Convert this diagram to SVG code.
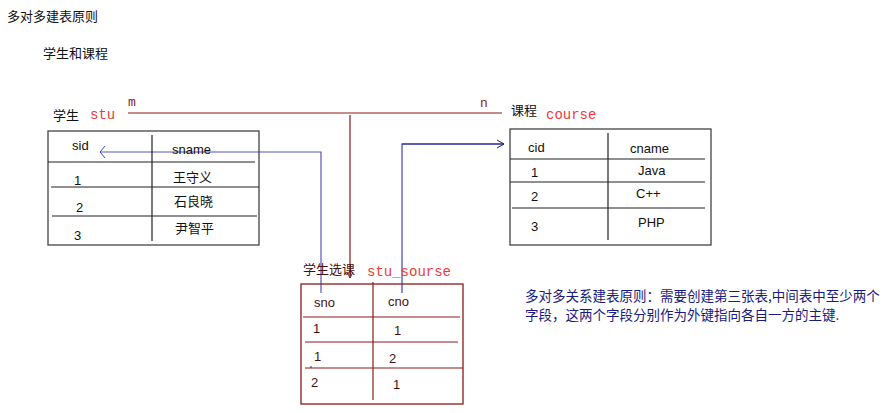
<svg xmlns="http://www.w3.org/2000/svg" width="894" height="413" viewBox="0 0 894 413">
<defs>
<style>
.t{font-family:"Liberation Sans","Noto Sans CJK SC",sans-serif;font-size:13px;fill:#111}
.cn{font-family:"Noto Sans CJK SC","Liberation Sans",sans-serif;font-size:13px;fill:#111}
.red{font-family:"Liberation Mono","DejaVu Sans Mono",monospace;font-size:14px;fill:#f03a3a}
.mn{font-family:"Liberation Mono",monospace;font-size:13px;fill:#8b1a1a}
.tb{fill:none;stroke:#444;stroke-width:1.3}
.ln{stroke:#222;stroke-width:1.2}
.rtb{fill:none;stroke:#8b1a1a;stroke-width:1.3}
.rln{stroke:#8b1a1a;stroke-width:1.2}
.rt{font-family:"Liberation Sans","Noto Sans CJK SC",sans-serif;font-size:13px;fill:#4a1010}
.note{font-family:"Noto Sans CJK SC","Liberation Sans",sans-serif;font-size:13.5px;fill:#1a1a80}
</style>
<marker id="openL" markerWidth="10" markerHeight="14" refX="8" refY="7" orient="auto" markerUnits="userSpaceOnUse">
<path d="M3,1 L8,7 L3,13" fill="none" stroke="#4444bb" stroke-width="1"/>
</marker>
<marker id="openR" markerWidth="10" markerHeight="10" refX="9" refY="5" orient="auto" markerUnits="userSpaceOnUse">
<path d="M2,1 L9,5 L2,9" fill="none" stroke="#1a1a8a" stroke-width="1"/>
</marker>
<marker id="downR" markerWidth="8" markerHeight="8" refX="7" refY="4" orient="auto" markerUnits="userSpaceOnUse">
<path d="M1,1 L7,4 L1,7" fill="none" stroke="#8b1a1a" stroke-width="1"/>
</marker>
</defs>
<rect width="894" height="413" fill="#fff"/>

<g id="titles">
<text class="cn" x="7" y="21">多对多建表原则</text>
<text class="cn" x="43" y="58">学生和课程</text>
</g>

<g id="connectors">
<line x1="128" y1="113" x2="502" y2="113" stroke="#8b1a1a" stroke-width="1.2"/>
<line x1="350" y1="115" x2="350" y2="278" stroke="#8b1a1a" stroke-width="1.2" marker-end="url(#downR)"/>
<polyline points="321,293 321,152 100,152" fill="none" stroke="#5555bb" stroke-width="1.2" marker-end="url(#openL)"/>
<polyline points="402,293 402,144 503,144" fill="none" stroke="#4444bb" stroke-width="1.2"/>
<line x1="402" y1="144" x2="504" y2="144" stroke="#1a1a8a" stroke-width="1.2" marker-end="url(#openR)"/>
<text class="mn" x="128" y="106">m</text>
<text class="mn" x="480" y="107">n</text>
</g>

<g id="stu">
<text class="cn" x="53" y="120">学生</text>
<text class="red" x="90" y="119">stu</text>
<rect class="tb" x="48" y="131" width="211" height="114"/>
<line class="ln" x1="152" y1="135" x2="152" y2="241"/>
<line class="ln" x1="48" y1="162" x2="255" y2="162"/>
<line class="ln" x1="51" y1="187" x2="259" y2="187"/>
<line class="ln" x1="52" y1="216" x2="257" y2="216"/>
<text class="t" x="72" y="150">sid</text>
<text class="t" x="172" y="154">sname</text>
<text class="t" x="74" y="185">1</text>
<text class="cn" x="173" y="182">王守义</text>
<text class="t" x="76" y="212">2</text>
<text class="cn" x="174" y="206">石良晓</text>
<text class="t" x="74" y="240">3</text>
<text class="cn" x="175" y="233">尹智平</text>
</g>

<g id="course">
<text class="cn" x="511" y="115">课程</text>
<text class="red" x="546" y="119">course</text>
<rect class="tb" x="510" y="129" width="201" height="116"/>
<line class="ln" x1="608" y1="133" x2="608" y2="240"/>
<line class="ln" x1="510" y1="159" x2="705" y2="159"/>
<line class="ln" x1="510" y1="182" x2="705" y2="182"/>
<line class="ln" x1="512" y1="208" x2="705" y2="208"/>
<text class="t" x="528" y="152">cid</text>
<text class="t" x="630" y="153">cname</text>
<text class="t" x="531" y="177">1</text>
<text class="t" x="638" y="175">Java</text>
<text class="t" x="531" y="201">2</text>
<text class="t" x="636" y="198">C++</text>
<text class="t" x="531" y="231">3</text>
<text class="t" x="638" y="227">PHP</text>
</g>

<g id="stu_sourse">
<text class="cn" x="303" y="274" style="fill:#4a1010">学生选课</text>
<text class="red" x="367" y="276">stu_sourse</text>
<rect class="rtb" x="301" y="284" width="162" height="120"/>
<line class="rln" x1="373" y1="282" x2="373" y2="400"/>
<line class="rln" x1="303" y1="317" x2="460" y2="317"/>
<line class="rln" x1="305" y1="342" x2="458" y2="342"/>
<line class="rln" x1="305" y1="368" x2="463" y2="368"/>
<text class="rt" x="314" y="307">sno</text>
<text class="rt" x="388" y="306">cno</text>
<text class="rt" x="313" y="333">1</text>
<text class="rt" x="394" y="335">1</text>
<text class="rt" x="314" y="361">1</text>
<circle cx="311" cy="367" r="0.8" fill="#4a1010"/>
<text class="rt" x="389" y="363">2</text>
<text class="rt" x="311" y="387">2</text>
<text class="rt" x="393" y="389">1</text>
</g>

<g id="note">
<text class="note" x="525" y="301">多对多关系建表原则：需要创建第三张表,中间表中至少两个</text>
<text class="note" x="525" y="320">字段，这两个字段分别作为外键指向各自一方的主键.</text>
</g>
</svg>
